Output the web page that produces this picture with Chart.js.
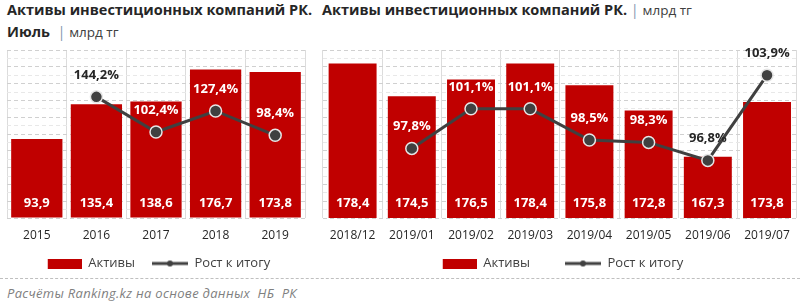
<!DOCTYPE html>
<html lang="ru">
<head>
<meta charset="UTF-8">
<title>Активы инвестиционных компаний РК</title>
<style>
    body {
        margin: 0;
        width: 800px;
        height: 303px;
        background: #fff;
        font-family: 'Open Sans', sans-serif;
        position: relative;
        overflow: hidden;
    }
    .title {
        position: absolute;
        font-weight: bold;
        font-size: 14.5px;
        line-height: 18px;
        color: #262626;
        white-space: nowrap;
    }
    .pipe { color: #8497b0; font-weight: normal; }
    .unit { color: #404040; font-weight: normal; font-size: 13.5px; }
    .box { position: absolute; top: 40px; height: 240px; }
    #sep {
        position: absolute;
        left: 0; top: 278px;
        width: 800px;
        border-top: 1px dashed #bfbfbf;
    }
    #source {
        position: absolute;
        left: 7px; top: 284px;
        font-style: italic;
        font-size: 13px;
        letter-spacing: 0.3px;
        color: #7f7f7f;
        white-space: nowrap;
    }
</style>
</head>
<body>
<div class="title" style="left:7px; top:1px;">Активы инвестиционных компаний РК.</div>
<div class="title" style="left:7px; top:23px;">Июль <span class="pipe">&nbsp;|</span> <span class="unit">млрд тг</span></div>
<div class="title" style="left:322px; top:1px;">Активы инвестиционных компаний РК. <span class="pipe">|</span> <span class="unit">млрд тг</span></div>

<div class="box" style="left:0; width:310px;"><canvas id="yearChart"></canvas></div>
<div class="box" style="left:310px; width:490px;"><canvas id="monthChart"></canvas></div>

<div id="sep"></div>
<div id="source">Расчёты Ranking.kz на основе данных&nbsp; НБ&nbsp; РК</div>

<script src="https://cdn.jsdelivr.net/npm/chart.js"></script>
<script>
    // Годовые данные (июль каждого года)
    const years = ['2015', '2016', '2017', '2018', '2019'];
    const yearAssets = [93.9, 135.4, 138.6, 176.7, 173.8];
    const yearGrowth = [null, 144.2, 102.4, 127.4, 98.4];

    // Помесячные данные
    const months = ['2018/12', '2019/01', '2019/02', '2019/03', '2019/04', '2019/05', '2019/06', '2019/07'];
    const monthAssets = [178.4, 174.5, 176.5, 178.4, 175.8, 172.8, 167.3, 173.8];
    const monthGrowth = [null, 97.8, 101.1, 101.1, 98.5, 98.3, 96.8, 103.9];

    const RED = '#c00000';
    const DARK = '#404040';
    const FONT = "'Open Sans', sans-serif";

    const fmt = v => v.toFixed(1).replace('.', ',');

    // legend icons, drawn right-aligned inside w (the empty part widens the gap between items)
    function rectIcon(w) {
        const c = document.createElement('canvas');
        c.width = w; c.height = 10;
        const g = c.getContext('2d');
        g.fillStyle = RED;
        g.fillRect(w - 34, 0, 34, 10);
        return c;
    }
    function lineIcon(w) {
        const c = document.createElement('canvas');
        c.width = w; c.height = 8;
        const g = c.getContext('2d');
        g.fillStyle = DARK;
        g.fillRect(w - 36, 2.5, 36, 3);
        g.beginPath();
        g.arc(w - 18, 4, 3, 0, Math.PI * 2);
        g.fill();
        return c;
    }

    // data labels drawn on top of bars / line points
    const labelPlugin = {
        id: 'valueLabels',
        afterDatasetsDraw(chart) {
            const ctx = chart.ctx;
            const bars = chart.getDatasetMeta(0);
            const line = chart.getDatasetMeta(1);
            const base = chart.scales.y.bottom;
            ctx.save();
            ctx.font = 'bold 13px ' + FONT;
            ctx.textAlign = 'center';
            ctx.textBaseline = 'middle';
            bars.data.forEach((el, i) => {
                ctx.fillStyle = '#ffffff';
                ctx.fillText(fmt(chart.data.datasets[0].data[i]), el.x, base - 15);
            });
            line.data.forEach((el, i) => {
                const v = chart.data.datasets[1].data[i];
                if (v == null) return;
                const ly = el.y - 22;
                ctx.fillStyle = ly > bars.data[i].y ? '#ffffff' : '#262626';
                ctx.fillText(fmt(v) + '%', el.x, ly);
            });
            ctx.restore();
        }
    };

    function makeChart(id, labels, assets, growth, opts) {
        const icons = [rectIcon(opts.iconW), lineIcon(opts.iconW)];
        const ctx = document.getElementById(id).getContext('2d');
        return new Chart(ctx, {
            type: 'bar',
            data: {
                labels: labels,
                datasets: [{
                    label: 'Активы',
                    data: assets,
                    backgroundColor: RED,
                    barPercentage: opts.barPct,
                    categoryPercentage: 1,
                    yAxisID: 'y',
                    order: 1
                }, {
                    type: 'line',
                    label: 'Рост к итогу',
                    data: growth,
                    borderColor: DARK,
                    borderWidth: 3,
                    pointRadius: 6,
                    pointBackgroundColor: DARK,
                    pointBorderColor: '#e6e6e6',
                    pointBorderWidth: 1.5,
                    yAxisID: 'y2',
                    order: 0
                }]
            },
            options: {
                responsive: true,
                maintainAspectRatio: false,
                animation: false,
                layout: { padding: opts.padding, autoPadding: false },
                scales: {
                    x: {
                        grid: { color: '#dcdcdc', drawTicks: false, offset: true },
                        border: { display: false },
                        ticks: { color: '#262626', font: { family: FONT, size: 12 }, padding: 10 },
                        afterFit: scale => { scale.height = 26; }
                    },
                    y: {
                        min: opts.yMin, max: opts.yMax,
                        ticks: { display: false, stepSize: opts.yStep },
                        grid: {
                            drawTicks: false,
                            color: c => (Math.round((c.tick.value - opts.yMin) / opts.yStep) % 2 === 0) ? '#d0d0d0' : '#e8e8e8'
                        },
                        border: { display: false, dash: [4, 3] },
                        afterFit: scale => { scale.width = opts.axisW; }
                    },
                    y2: {
                        display: false,
                        min: opts.y2Min, max: opts.y2Max
                    }
                },
                plugins: {
                    tooltip: { enabled: false },
                    legend: {
                        position: 'bottom',
                        labels: {
                            usePointStyle: true,
                            pointStyleWidth: opts.iconW,
                            padding: 13,
                            color: '#404040',
                            font: { family: FONT, size: 13 },
                            sort: (a, b) => a.datasetIndex - b.datasetIndex,
                            generateLabels: chart => Chart.defaults.plugins.legend.labels.generateLabels(chart)
                                .map(item => Object.assign(item, { pointStyle: icons[item.datasetIndex] }))
                        }
                    }
                }
            },
            plugins: [labelPlugin]
        });
    }

    makeChart('yearChart', years, yearAssets, yearGrowth, {
        barPct: 0.86, yMin: 0, yMax: 200, yStep: 10, y2Min: 0, y2Max: 200,
        padding: { left: 7, right: 5, top: 10, bottom: 0 }, axisW: 0, iconW: 40
    });
    makeChart('monthChart', months, monthAssets, monthGrowth, {
        barPct: 0.81, yMin: 160, yMax: 180, yStep: 1, y2Min: 92, y2Max: 106,
        padding: { left: -5, right: 3, top: 10, bottom: 0 }, axisW: 18, iconW: 58
    });
</script>
</body>
</html>
